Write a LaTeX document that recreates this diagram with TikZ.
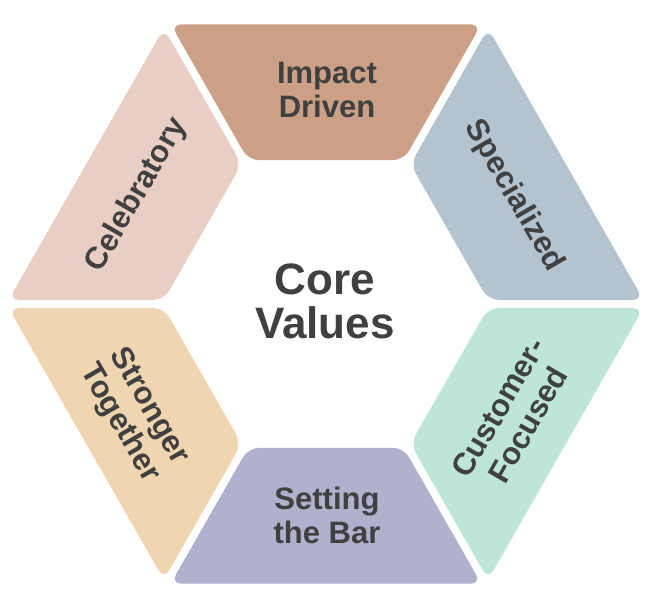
\documentclass[tikz,border=0pt]{standalone}
\usepackage{fontspec}
\setmainfont{Liberation Sans}
\usetikzlibrary{calc}
\definecolor{cImpact}{HTML}{CBA086}
\definecolor{cSpec}{HTML}{B3C3D0}
\definecolor{cCust}{HTML}{BDE5DA}
\definecolor{cBar}{HTML}{B1B0CD}
\definecolor{cStrong}{HTML}{F0D6B0}
\definecolor{cCeleb}{HTML}{E8CEC3}
\definecolor{txt}{HTML}{404040}
\tikzset{
  lbl/.style={text=txt, align=center, inner sep=0pt, font=\bfseries\fontsize{31}{34}\selectfont},
  core/.style={text=txt, align=center, inner sep=0pt, font=\bfseries\fontsize{44}{44}\selectfont},
  segfill/.style={rounded corners=11pt},
}
\newcommand\hexseg[2]{%
  \fill[#2, segfill]
    ([shift={(#1+120:4.6)}]#1:323) --
    ([shift={(#1+300:4.6)}]#1+60:323) --
    ([shift={(#1+300:4.6)}]#1+60:166) --
    ([shift={(#1+120:4.6)}]#1:166) -- cycle;}
\begin{document}
\begin{tikzpicture}[x=1pt,y=1pt]
\useasboundingbox[fill=white] (-326,-298) rectangle (331,304);
\begin{scope}[xscale=0.99]
\hexseg{0}{cSpec}
\hexseg{60}{cImpact}
\hexseg{120}{cCeleb}
\hexseg{180}{cStrong}
\hexseg{240}{cBar}
\hexseg{300}{cCust}
\end{scope}
\node[core] (core) at (-1,3) {Core\\Values};
\node[lbl] (impact) at (1,214) {Impact\\Driven};
\node[lbl] (bar) at (1,-211) {Setting\\the Bar};
\node[lbl, rotate=60] (celeb) at (-189,109) {Celebratory};
\node[lbl, rotate=-60] (spec) at (188,108) {Specialized};
\node[lbl, rotate=60] (cust) at (187,-112) {Customer-\\Focused};
\node[lbl, rotate=-60] (strong) at (-192,-111) {Stronger\\Together};
\end{tikzpicture}
\end{document}
